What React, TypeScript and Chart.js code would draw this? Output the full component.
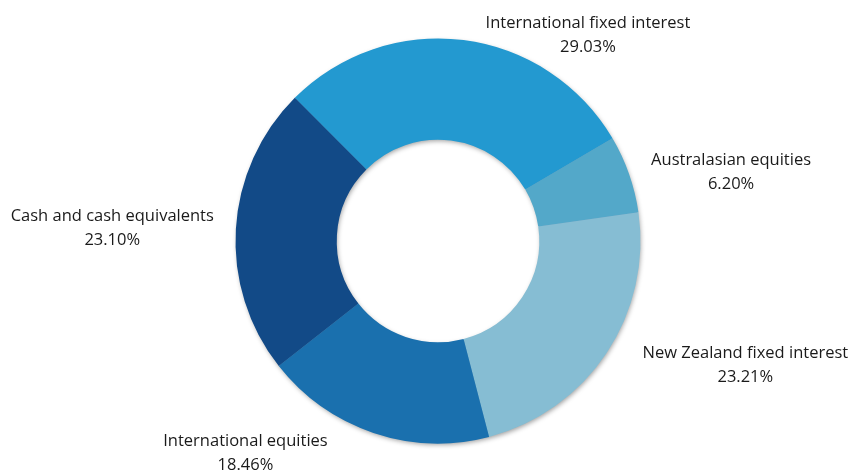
import React, { useEffect, useRef } from "react";
import { Chart, registerables } from "chart.js";

Chart.register(...registerables);

const categories = [
  "International fixed interest",
  "Australasian equities",
  "New Zealand fixed interest",
  "International equities",
  "Cash and cash equivalents",
];
const values = [29.03, 6.2, 23.21, 18.46, 23.1];
const colors = ["#2399D0", "#53A8C9", "#86BDD3", "#1A70AE", "#124A87"];

const shadowPlugin = {
  id: "ringShadow",
  beforeDatasetsDraw(chart: any) {
    const ctx = chart.ctx;
    const meta = chart.getDatasetMeta(0);
    const arc = meta.data[0];
    if (!arc) return;
    const { x, y, innerRadius, outerRadius } = arc.getProps(
      ["x", "y", "innerRadius", "outerRadius"],
      true
    );
    ctx.save();
    ctx.shadowColor = "rgba(0,0,0,0.4)";
    ctx.shadowBlur = 5;
    ctx.shadowOffsetX = 1;
    ctx.shadowOffsetY = 2;
    ctx.fillStyle = "#6a9fc0";
    ctx.beginPath();
    ctx.arc(x, y, outerRadius - 1, 0, Math.PI * 2);
    ctx.arc(x, y, innerRadius + 1, 0, Math.PI * 2, true);
    ctx.closePath();
    ctx.fill("evenodd");
    ctx.restore();
  },
};

const labelPlugin = {
  id: "outsideLabels",
  afterDraw(chart: any) {
    const ctx = chart.ctx;
    const meta = chart.getDatasetMeta(0);
    const data = chart.data.datasets[0].data as number[];
    ctx.save();
    ctx.font = "16.5px 'Open Sans', sans-serif";
    ctx.fillStyle = "#1a1a1a";
    ctx.textBaseline = "middle";
    ctx.textAlign = "center";
    meta.data.forEach((arc: any, i: number) => {
      const { x, y, startAngle, endAngle, outerRadius } = arc.getProps(
        ["x", "y", "startAngle", "endAngle", "outerRadius"],
        true
      );
      const mid = (startAngle + endAngle) / 2;
      const dx = Math.cos(mid);
      const dy = Math.sin(mid);
      const px = x + dx * outerRadius;
      const py = y + dy * outerRadius;
      const l1 = String(chart.data.labels[i]);
      const l2 = data[i].toFixed(2) + "%";
      const w = Math.max(ctx.measureText(l1).width, ctx.measureText(l2).width);
      const side = dx >= 0 ? 1 : -1;
      const gap = 22 + Math.max(dy, 0) * 25;
      const cx = px + side * (gap + w / 2);
      const cy = py + (dy > 0 ? dy * 22 : dy * 5);
      ctx.fillText(l1, cx, cy - 12);
      ctx.fillText(l2, cx, cy + 12);
    });
    ctx.restore();
  },
};

export default function App() {
  const ref = useRef<HTMLCanvasElement>(null);
  useEffect(() => {
    if (!ref.current) return;
    const chart = new Chart(ref.current, {
      type: "doughnut",
      data: {
        labels: categories,
        datasets: [
          {
            data: values,
            backgroundColor: colors,
            borderWidth: 0,
            hoverOffset: 0,
          },
        ],
      },
      options: {
        animation: false,
        responsive: true,
        maintainAspectRatio: false,
        rotation: -45,
        cutout: "50%",
        layout: { padding: { left: 26, right: 0, top: 38.5, bottom: 28.5 } },
        plugins: {
          legend: { display: false },
          tooltip: { enabled: false },
        },
      },
      plugins: [shadowPlugin, labelPlugin],
    });
    return () => chart.destroy();
  }, []);
  return (
    <div style={{ position: "fixed", left: 0, top: 0, width: 850, height: 472, background: "#fff" }}>
      <canvas ref={ref} />
    </div>
  );
}
